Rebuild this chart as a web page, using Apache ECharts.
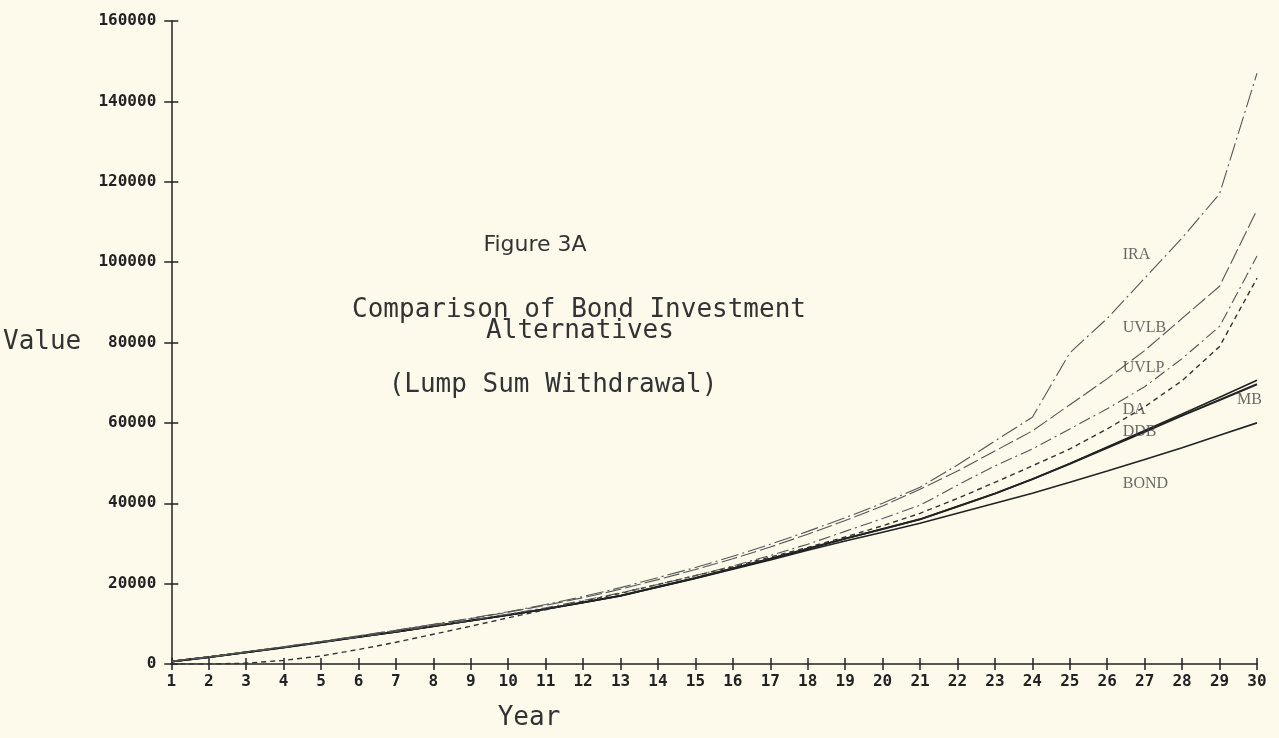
<!DOCTYPE html>
<html>
<head>
<meta charset="utf-8">
<script src="https://cdn.jsdelivr.net/npm/echarts@6/dist/echarts.min.js"></script>
<style>
  html, body { margin: 0; padding: 0; background: #fdfaeb; }
  #chart { width: 1279px; height: 738px; }
</style>
</head>
<body>
<div id="chart"></div>
<script>
var years = [1, 2, 3, 4, 5, 6, 7, 8, 9, 10, 11, 12, 13, 14, 15, 16, 17, 18, 19, 20, 21, 22, 23, 24, 25, 26, 27, 28, 29, 30];

// values in dollars
var ira  = [700, 1800, 3000, 4300, 5600, 7000, 8400, 9900, 11400, 13000, 14800, 16800, 19000, 21500, 24000, 26800, 29800, 33000, 36400, 40000, 44000, 49500, 55500, 61400, 77400, 86000, 96000, 106000, 117000, 147000];
var uvlb = [700, 1800, 3000, 4300, 5600, 7000, 8400, 9800, 11300, 12900, 14600, 16500, 18600, 21000, 23500, 26200, 29100, 32300, 35700, 39300, 43500, 48000, 53000, 58000, 64500, 71000, 78000, 86000, 94000, 113000];
var uvlp = [600, 1700, 2900, 4100, 5400, 6700, 8100, 9500, 10900, 12400, 14000, 15800, 17700, 19800, 22000, 24400, 27000, 29800, 33000, 36200, 39500, 44500, 49300, 53500, 58500, 63500, 69000, 76000, 84000, 101500];
var da   = [0, 0, 200, 900, 2000, 3600, 5400, 7400, 9400, 11500, 13500, 15600, 17600, 19800, 22000, 24200, 26600, 29000, 31600, 34400, 37500, 41200, 45200, 49300, 53500, 58500, 64000, 70500, 79000, 96000];
var ddb  = [600, 1700, 2900, 4100, 5400, 6700, 8000, 9400, 10800, 12200, 13700, 15300, 17000, 19200, 21400, 23800, 26200, 28700, 31200, 33600, 36000, 39200, 42400, 46000, 49800, 53800, 57800, 61800, 65700, 69600];
var mb   = [600, 1700, 2900, 4100, 5400, 6700, 8000, 9400, 10800, 12200, 13700, 15300, 17000, 19200, 21400, 23800, 26200, 28700, 31200, 33600, 36000, 39200, 42400, 46000, 49900, 54000, 58100, 62200, 66400, 70600];
var bond = [600, 1700, 2900, 4100, 5400, 6700, 8000, 9400, 10800, 12200, 13700, 15300, 17000, 19100, 21300, 23600, 25900, 28300, 30600, 32800, 35000, 37500, 40000, 42500, 45200, 48000, 50900, 53800, 56900, 60000];

// curve name tags, placed in data units
var tagNames = ["IRA", "UVLB", "UVLP", "DA", "DDB", "MB", "BOND"];
var tagYear  = [26.4, 26.4, 26.4, 26.4, 26.4, 29.45, 26.4];
var tagValue = [101700, 83600, 73600, 63200, 57700, 65700, 44800];

var monoFont = "'DejaVu Sans Mono', monospace";

function pairs(vals) {
    var out = [];
    for (var i = 0; i < years.length; i++) {
        out.push([years[i], vals[i]]);
    }
    return out;
}

function lineSeries(name, vals, color, width, type) {
    return {
        name: name,
        type: "line",
        data: pairs(vals),
        symbol: "none",
        smooth: false,
        lineStyle: { color: color, width: width, type: type },
        z: 3
    };
}

var tagData = [];
for (var i = 0; i < tagNames.length; i++) {
    tagData.push({ value: [tagYear[i], tagValue[i]], name: tagNames[i] });
}

var chart = echarts.init(document.getElementById("chart"));

var xBase = {
    type: "value",
    min: 1,
    max: 30,
    interval: 1,
    splitLine: { show: false }
};
var yBase = {
    type: "value",
    min: 0,
    max: 160000,
    interval: 20000,
    splitLine: { show: false }
};

var option = {
    backgroundColor: "#fdfaeb",
    animation: false,
    grid: { left: 171, right: 22, top: 21, bottom: 74 },
    xAxis: [
        Object.assign({}, xBase, {
            axisLine: { show: true, lineStyle: { color: "#222", width: 1.5 } },
            axisTick: { show: true, length: 6, lineStyle: { color: "#222", width: 1.5 } },
            axisLabel: { color: "#222", fontFamily: monoFont, fontSize: 16, fontWeight: "bold", margin: 10 }
        }),
        // second copy only to get the tick marks crossing the line
        Object.assign({}, xBase, {
            position: "bottom",
            axisLine: { show: false },
            axisTick: { show: true, inside: true, length: 6, lineStyle: { color: "#222", width: 1.5 } },
            axisLabel: { show: false }
        })
    ],
    yAxis: [
        Object.assign({}, yBase, {
            name: "Value",
            nameLocation: "middle",
            nameRotate: 0,
            nameGap: 90,
            nameTextStyle: { color: "#333", fontFamily: monoFont, fontSize: 26 },
            axisLine: { show: true, lineStyle: { color: "#222", width: 1.5 } },
            axisTick: { show: true, length: 7, lineStyle: { color: "#222", width: 1.5 } },
            axisLabel: {
                color: "#222", fontFamily: monoFont, fontSize: 16, fontWeight: "bold", margin: 15,
                formatter: function (v) { return String(v); }
            }
        }),
        Object.assign({}, yBase, {
            position: "left",
            axisLine: { show: false },
            axisTick: { show: true, inside: true, length: 7, lineStyle: { color: "#222", width: 1.5 } },
            axisLabel: { show: false }
        })
    ],
    graphic: [
        { type: "text", x: 535, y: 245, style: { text: "Figure 3A", font: "22px 'DejaVu Sans', sans-serif", fill: "#333", textAlign: "center", textVerticalAlign: "middle" } },
        { type: "text", x: 579, y: 310, style: { text: "Comparison of Bond Investment", font: "26px " + monoFont, fill: "#333", textAlign: "center", textVerticalAlign: "middle" } },
        { type: "text", x: 580, y: 331, style: { text: "Alternatives", font: "26px " + monoFont, fill: "#333", textAlign: "center", textVerticalAlign: "middle" } },
        { type: "text", x: 553, y: 385, style: { text: "(Lump Sum Withdrawal)", font: "26px " + monoFont, fill: "#333", textAlign: "center", textVerticalAlign: "middle" } },
        { type: "text", x: 529, y: 718, style: { text: "Year", font: "26px " + monoFont, fill: "#333", textAlign: "center", textVerticalAlign: "middle" } }
    ],
    series: [
        lineSeries("BOND", bond, "#222", 1.6, "solid"),
        lineSeries("DDB", ddb, "#222", 2, "solid"),
        lineSeries("MB", mb, "#222", 1.6, "solid"),
        lineSeries("DA", da, "#333", 1.4, [5, 4]),
        lineSeries("UVLP", uvlp, "#555", 1.1, [12, 4, 2, 4]),
        lineSeries("UVLB", uvlb, "#555", 1.1, [16, 4]),
        lineSeries("IRA", ira, "#555", 1.1, [18, 4, 2, 4]),
        {
            name: "tags",
            type: "scatter",
            xAxisIndex: 1,
            yAxisIndex: 1,
            data: tagData,
            symbolSize: 1,
            itemStyle: { color: "rgba(0,0,0,0)" },
            label: {
                show: true,
                position: "right",
                distance: 0,
                formatter: function (p) { return p.name; },
                fontFamily: "'Liberation Serif', 'DejaVu Serif', serif",
                fontSize: 16,
                color: "#444"
            },
            z: 4
        }
    ]
};

chart.setOption(option);
</script>
</body>
</html>
